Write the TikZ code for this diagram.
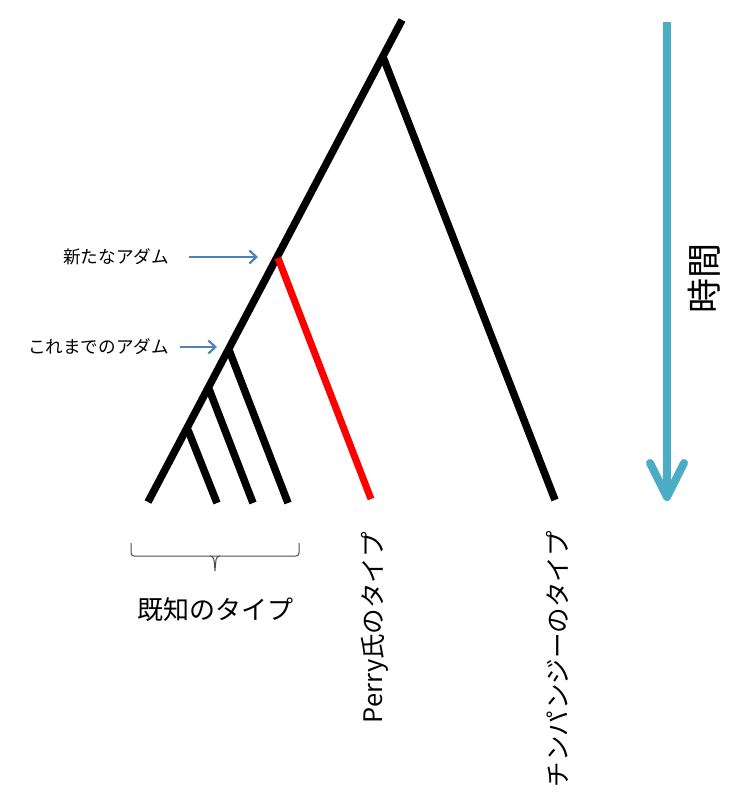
\documentclass[tikz,border=0pt]{standalone}
\usepackage{fontspec}
\setmainfont{Noto Sans CJK JP}
\usepackage{tikz}
\usetikzlibrary{arrows.meta}
\usetikzlibrary{positioning}
\definecolor{adamblue}{HTML}{4F81BD}
\definecolor{timeblue}{HTML}{4BACC6}
\tikzset{branch/.style = {line width=7.5pt, black}}
\tikzset{perrybranch/.style = {line width=7pt, red}}
\tikzset{pointer/.style = {line width=2.2pt, adamblue,
                           -{Straight Barb[length=7pt, width=13pt]}}}
\tikzset{timeline/.style = {line width=8pt, timeblue}}
\tikzset{bracket/.style = {line width=1pt, black!70, rounded corners=3pt}}
\tikzset{adamlabel/.style = {anchor=east, inner sep=0pt, font=\fontsize{17.6}{17.6}\selectfont}}
\tikzset{typelabel/.style = {rotate=90, anchor=east, inner sep=0pt, font=\fontsize{25.5}{25.5}\selectfont}}

\begin{document}
\begin{tikzpicture}[x=1pt, y=-1pt]
    \useasboundingbox (0, 0) rectangle (739, 800);

    \coordinate (top) at (402, 20);
    \coordinate (chimpfork) at (383, 57);
    \coordinate (perryfork) at (278, 258);
    \coordinate (adam) at (229, 350);
    \coordinate (forkb) at (209, 389);
    \coordinate (forka) at (188, 430);
    \coordinate (leafa) at (148, 502);
    \coordinate (leafb) at (217, 503);
    \coordinate (leafc) at (253, 503);
    \coordinate (leafd) at (288, 503);
    \coordinate (perryleaf) at (371, 499);
    \coordinate (chimpleaf) at (555, 500);

    \draw [branch] (top) -- (leafa);
    \draw [branch] (chimpfork) -- (chimpleaf);
    \draw [perrybranch] (perryfork) -- (perryleaf);
    \foreach \f/\l in {forka/leafb, forkb/leafc, adam/leafd} {
      \draw [branch] (\f) -- (\l);
    }

    \node (newlabel) at (169, 257) [adamlabel] {新たなアダム};
    \node (oldlabel) at (169, 347) [adamlabel] {これまでのアダム};
    \coordinate (newtip) at (258, 257);
    \coordinate (oldtip) at (217, 347);
    \draw [pointer, shorten <=20pt] (newlabel.east) -- (newtip);
    \draw [pointer, shorten <=11pt] (oldlabel.east) -- (oldtip);

    \draw [bracket] (131, 543) |- (215, 556) -| (299, 543);
    \draw [bracket, rounded corners=0pt] (210, 556) .. controls (214, 557) .. (215, 571)
                                         .. controls (216, 557) .. (220, 556);
    \node (knownlabel) at (215, 610) [font=\fontsize{26}{26}\selectfont] {既知のタイプ};
    \node (perrylabel) at (375, 532) [typelabel] {Perry氏のタイプ};
    \node (chimplabel) at (557, 531) [typelabel] {チンパンジーのタイプ};

    \coordinate (timetop) at (667, 22);
    \coordinate (timetip) at (667, 497);
    \draw [timeline] (timetop) -- (timetip);
    \draw [timeline, line cap=round, line join=round] (650, 463) -- (timetip) -- (684, 463);
    \node (timelabel) at (704, 278) [rotate=90, font=\fontsize{35}{35}\selectfont] {時間};
  \end{tikzpicture}
\end{document}
